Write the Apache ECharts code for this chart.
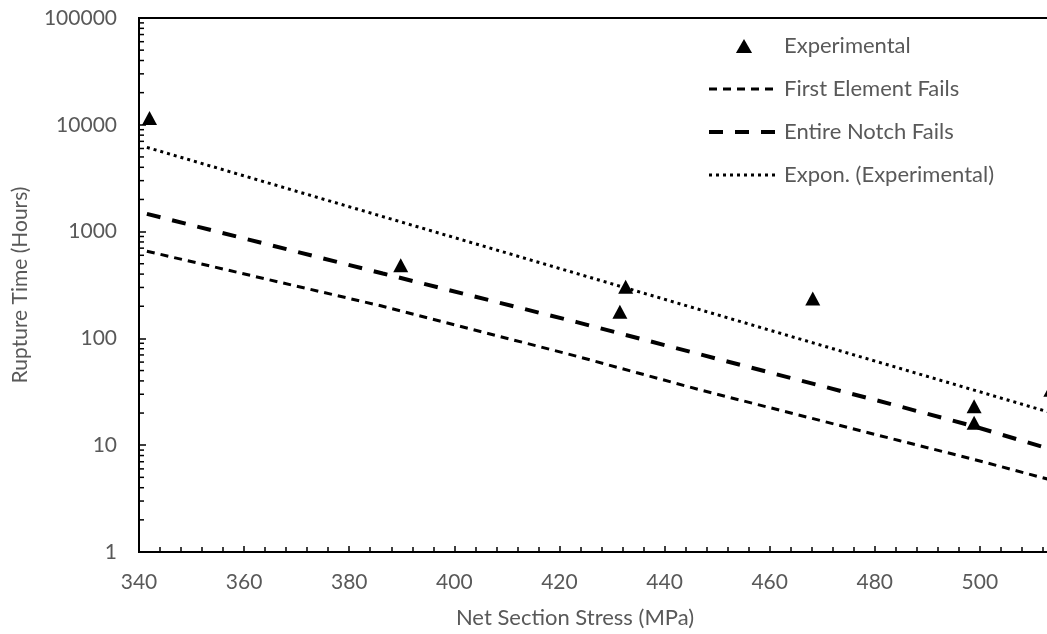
<!DOCTYPE html>
<html>
<head>
<meta charset="utf-8">
<script src="https://cdn.jsdelivr.net/npm/echarts@6/dist/echarts.min.js"></script>
<style>html,body{margin:0;padding:0;background:#fff}#c{width:1047px;height:634px}</style>
</head>
<body>
<div id="c"></div>
<script>
// ---- data ----
const experimental = [[342, 11600], [389.8, 483], [431.5, 178], [432.6, 304], [468.2, 237], [498.9, 23.2], [498.9, 16.2], [513.5, 33]];
const firstElementFails = [[341.5, 655], [386, 202], [423.3, 68], [446.7, 33], [484.8, 11], [498.7, 7.4], [513, 4.8]];
const entireNotchFails = [[341.5, 1466], [386.4, 405], [423.3, 142], [446.7, 71], [482.9, 24.4], [498.7, 15.1], [513, 9.3]];
const exponTrend = [[341.5, 6150], [513, 20.5]];
const xTicks = { min: 340, max: 520, interval: 20 };
const yTicks = { min: 1, max: 100000 };
const seriesNames = ['Experimental', 'First Element Fails', 'Entire Notch Fails', 'Expon. (Experimental)'];

// minor log ticks 2..9 per decade (axis decoration)
const yMinor = [];
for (let d = yTicks.min; d < yTicks.max; d *= 10) {
  for (let m = 2; m <= 9; m++) yMinor.push([xTicks.min, m * d]);
}

const FONT = 'Lato';
const GREY = '#595959';
const styles = {
  first: { color: '#000', width: 3, type: [8, 6], opacity: 1 },
  notch: { color: '#000', width: 4, type: [14, 12], opacity: 1 },
  trend: { color: '#000', width: 3, type: [3, 4], opacity: 1 }
};
const chart = echarts.init(document.getElementById('c'), null, { renderer: 'canvas' });
chart.setOption({
  animation: false,
  backgroundColor: '#fff',
  grid: { left: 139, top: 18, bottom: 82, width: 946, outerBoundsMode: 'none', containLabel: false,
          show: true, borderColor: '#000', borderWidth: 2, backgroundColor: 'transparent' },
  legend: {
    data: [
      { name: seriesNames[0], icon: 'path://M0,13 L7.5,0 L15,13 Z', itemStyle: { color: '#000', opacity: 1 } },
      { name: seriesNames[1], itemStyle: { opacity: 0 }, lineStyle: styles.first },
      { name: seriesNames[2], itemStyle: { opacity: 0 }, lineStyle: styles.notch },
      { name: seriesNames[3], itemStyle: { opacity: 0 }, lineStyle: styles.trend }
    ],
    symbolKeepAspect: true,
    orient: 'vertical',
    left: 702, top: 30,
    itemWidth: 70, itemHeight: 14, itemGap: 21,
    textStyle: { fontFamily: FONT, fontSize: 22, color: GREY }
  },
  xAxis: {
    type: 'value', min: xTicks.min, max: xTicks.max, interval: xTicks.interval,
    axisLine: { show: true, lineStyle: { color: '#000', width: 2 } },
    axisTick: { show: true, inside: true, length: 6, lineStyle: { color: '#000', width: 1.5 } },
    minorTick: { show: true, splitNumber: 5, length: 5, lineStyle: { color: '#000', width: 1.5 } },
    splitLine: { show: false },
    minorSplitLine: { show: false },
    axisLabel: { margin: 20, fontFamily: FONT, fontSize: 21, color: GREY }
  },
  yAxis: {
    type: 'log', logBase: 10, min: yTicks.min, max: yTicks.max,
    name: 'Rupture Time (Hours)', nameLocation: 'middle', nameGap: 108,
    nameTextStyle: { fontFamily: FONT, fontSize: 21, color: GREY },
    axisLine: { show: true, lineStyle: { color: '#000', width: 2 } },
    axisTick: { show: true, inside: true, length: 7, lineStyle: { color: '#000', width: 1.5 } },
    splitLine: { show: false },
    axisLabel: { margin: 22, fontFamily: FONT, fontSize: 21, color: GREY,
                 formatter: function (v) { return String(Math.round(v)); } }
  },
  graphic: [{
    type: 'text', x: 575, y: 607,
    style: { text: 'Net Section Stress (MPa)', fontFamily: FONT, fontSize: 22, fill: GREY, textAlign: 'center', textVerticalAlign: 'top' }
  }],
  series: [
    {
      name: seriesNames[0], type: 'scatter', data: experimental,
      symbol: 'triangle', symbolSize: [15, 14], itemStyle: { color: '#000', opacity: 1 }, z: 5
    },
    {
      name: seriesNames[1], type: 'line', data: firstElementFails, symbol: 'none',
      lineStyle: styles.first, itemStyle: { color: '#000' }
    },
    {
      name: seriesNames[2], type: 'line', data: entireNotchFails, symbol: 'none',
      lineStyle: styles.notch, itemStyle: { color: '#000' }
    },
    {
      name: seriesNames[3], type: 'line', data: exponTrend, symbol: 'none',
      lineStyle: styles.trend, itemStyle: { color: '#000' }
    },
    {
      type: 'custom', coordinateSystem: 'cartesian2d', silent: true, clip: false,
      data: yMinor, encode: { x: 0, y: 1 }, z: 6,
      renderItem: function (params, api) {
        const p = api.coord([api.value(0), api.value(1)]);
        return { type: 'line', shape: { x1: p[0], y1: p[1], x2: p[0] + 5, y2: p[1] }, style: { stroke: '#000', lineWidth: 1.5 } };
      }
    }
  ]
});
</script>
</body>
</html>
